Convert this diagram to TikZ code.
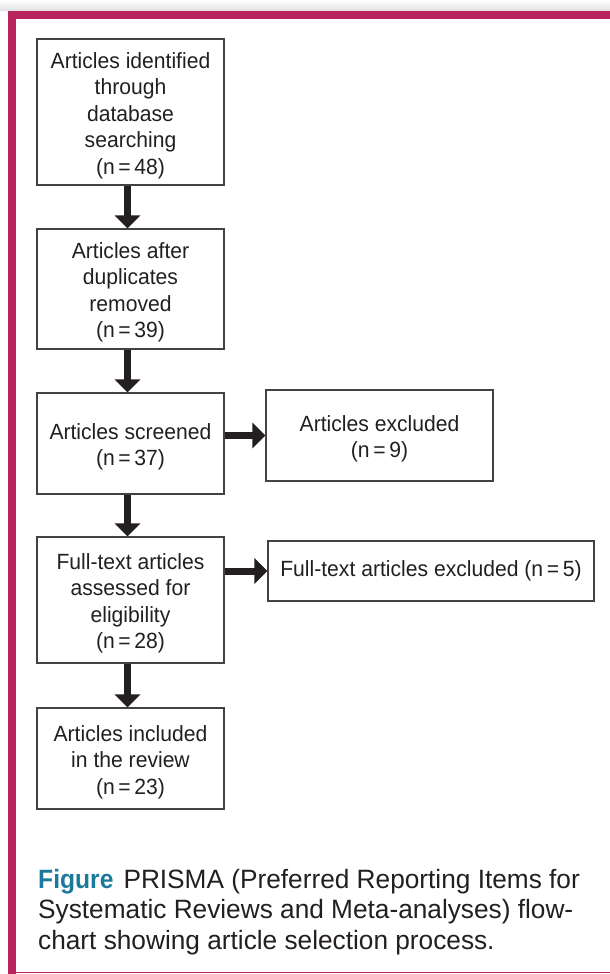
\documentclass[tikz,border=0pt]{standalone}
\usepackage{fontspec}
\setmainfont{Liberation Sans}[FakeStretch=0.96]
\newfontfamily\capfont{Liberation Sans}[FakeStretch=0.99]
\newfontfamily\figfont{Liberation Sans Bold}[FakeStretch=0.93]
\usepackage{tikz}
\usetikzlibrary{arrows.meta,positioning}
\definecolor{framered}{HTML}{B8245C}
\definecolor{figblue}{HTML}{1B7A9C}
\definecolor{ink}{HTML}{231F20}
\newcommand{\topstrut}{\rule{0pt}{23pt}}
\tikzstyle{box} = [rectangle, draw=ink!85, line width=1.2pt, text=ink, align=center,
                   inner sep=0pt, font=\fontsize{22}{26.5}\selectfont]
\tikzstyle{bigarrow} = [line width=7pt, draw=ink, -{Triangle[width=25pt,length=13pt]}]

\begin{document}
\begin{tikzpicture}[x=1pt,y=-1pt]
	\useasboundingbox (0,0) rectangle (610,974);
	\shade[top color=white, bottom color=black!12] (0,0) rectangle (610,11);
	\fill[framered] (8,11) rectangle (610,19);
	\fill[framered] (8,11) rectangle (16,974);
	\draw[framered, line width=1pt] (16,972) -- (610,972);

	\node[box, minimum width=187pt, minimum height=146pt] (ident) at (130.5,112)
		{\topstrut Articles identified\\through\\database\\searching\\(n\,=\,48)};
	\node[box, minimum width=187pt, minimum height=120pt] (dedup) at (130.5,289)
		{\topstrut Articles after\\duplicates\\removed\\(n\,=\,39)};
	\node[box, minimum width=187pt, minimum height=101pt] (screen) at (130.5,443.5)
		{\topstrut Articles screened\\(n\,=\,37)};
	\node[box, minimum width=227pt, minimum height=91pt] (excl) at (379.5,435.5)
		{\topstrut Articles excluded\\(n\,=\,9)};
	\node[box, minimum width=187pt, minimum height=126pt] (fulltext) at (130.5,600)
		{\topstrut Full-text articles\\assessed for\\eligibility\\(n\,=\,28)};
	\node[box, minimum width=326pt, minimum height=60pt] (ftexcl) at (431,571)
		{Full-text articles excluded (n\,=\,5)};
	\node[box, minimum width=187pt, minimum height=101pt] (incl) at (130.5,758.5)
		{\topstrut Articles included\\in the review\\(n\,=\,23)};

	\draw[bigarrow] ([xshift=-3pt]ident.south) -- ([xshift=-3pt]dedup.north);
	\draw[bigarrow] ([xshift=-3pt]dedup.south) -- ([xshift=-3pt]screen.north);
	\draw[bigarrow] ([xshift=-3pt]screen.south) -- ([xshift=-3pt]fulltext.north);
	\draw[bigarrow] ([xshift=-3pt]fulltext.south) -- ([xshift=-3pt]incl.north);
	\draw[bigarrow] (screen.east |- excl.west) -- (excl.west);
	\draw[bigarrow] (fulltext.east |- ftexcl.west) -- (ftexcl.west);

	\node[anchor=north west, align=left, inner sep=0pt, text=ink,
		font=\capfont\fontsize{26.5}{30.5}\selectfont] (caption) at (38,869)
		{{\figfont\color{figblue}Figure}\hspace{10pt}PRISMA (Preferred Reporting Items for\\
		Systematic Reviews and Meta-analyses) flow-\\
		chart showing article selection process.};
\end{tikzpicture}
\end{document}
